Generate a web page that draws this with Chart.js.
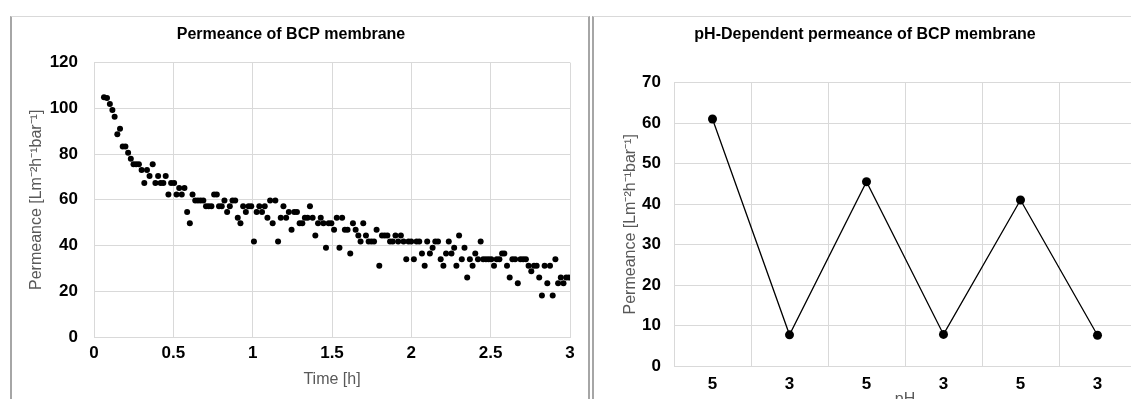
<!DOCTYPE html>
<html>
<head>
<meta charset="utf-8">
<script src="https://cdn.jsdelivr.net/npm/chart.js@4/dist/chart.umd.min.js"></script>
<style>
  html, body { margin: 0; padding: 0; background: #fff; overflow: hidden; width: 1131px; height: 399px; }
  .panel { position: absolute; box-sizing: border-box; }
  #p1 { left: 10px; top: 16px; width: 580px; height: 420px; border-left: 2px solid #a6a6a6; border-right: 2px solid #a6a6a6; border-top: 1px solid #d9d9d9; }
  #p2 { left: 592px; top: 16px; width: 600px; height: 420px; border-left: 2px solid #a6a6a6; border-top: 1px solid #d9d9d9; }
  canvas { position: absolute; }
  #timeChart { left: 12px; top: 17px; }
  #phChart { left: 594px; top: 17px; }
</style>
</head>
<body>
<div class="panel" id="p1"></div>
<div class="panel" id="p2"></div>
<canvas id="timeChart" width="576" height="382"></canvas>
<canvas id="phChart" width="560" height="394"></canvas>
<script>
// left chart: permeance over time
const timeH = [
  0.063, 0.082, 0.100, 0.116, 0.130, 0.147, 0.164, 0.181, 0.198, 0.215,
  0.232, 0.249, 0.266, 0.283, 0.300, 0.317, 0.334, 0.350, 0.370, 0.387,
  0.404, 0.420, 0.437, 0.452, 0.469, 0.486, 0.505, 0.520, 0.537, 0.553,
  0.570, 0.587, 0.604, 0.621, 0.638, 0.655, 0.672, 0.689, 0.706, 0.723,
  0.740, 0.757, 0.774, 0.788, 0.805, 0.822, 0.839, 0.856, 0.873, 0.890,
  0.906, 0.923, 0.940, 0.957, 0.974, 0.991, 1.008, 1.025, 1.042, 1.059,
  1.076, 1.093, 1.110, 1.126, 1.143, 1.160, 1.177, 1.194, 1.211, 1.228,
  1.245, 1.262, 1.279, 1.296, 1.313, 1.329, 1.346, 1.361, 1.378, 1.395,
  1.412, 1.429, 1.446, 1.462, 1.479, 1.496, 1.513, 1.530, 1.547, 1.564,
  1.581, 1.598, 1.615, 1.632, 1.649, 1.666, 1.680, 1.697, 1.714, 1.731,
  1.748, 1.765, 1.781, 1.798, 1.815, 1.832, 1.849, 1.866, 1.883, 1.900,
  1.917, 1.934, 1.951, 1.968, 1.982, 1.999, 2.016, 2.033, 2.050, 2.067,
  2.084, 2.100, 2.117, 2.134, 2.151, 2.168, 2.185, 2.202, 2.219, 2.236,
  2.253, 2.270, 2.284, 2.301, 2.318, 2.335, 2.352, 2.369, 2.386, 2.403,
  2.420, 2.437, 2.453, 2.470, 2.487, 2.504, 2.521, 2.538, 2.555, 2.572,
  2.586, 2.603, 2.620, 2.637, 2.654, 2.671, 2.688, 2.705, 2.722, 2.739,
  2.756, 2.773, 2.790, 2.806, 2.823, 2.840, 2.857, 2.874, 2.891, 2.908,
  2.925, 2.942, 2.959, 2.976, 2.993
];
const permeance = [
  104.8, 104.5, 101.9, 99.3, 96.3, 88.7, 91.1, 83.3, 83.3, 80.6,
  77.9, 75.5, 75.5, 75.5, 73.0, 67.4, 73.0, 70.4, 75.5, 67.4,
  70.4, 67.4, 67.4, 70.4, 62.3, 67.4, 67.4, 62.3, 65.2, 62.3,
  65.2, 54.7, 49.7, 62.3, 59.7, 59.7, 59.7, 59.7, 57.2, 57.2,
  57.2, 62.3, 62.3, 57.2, 57.2, 59.7, 54.7, 57.2, 59.7, 59.7,
  52.2, 49.7, 57.2, 54.7, 57.2, 57.2, 41.8, 54.7, 57.2, 54.7,
  57.2, 52.2, 59.7, 49.7, 59.7, 41.8, 52.2, 57.2, 52.2, 54.7,
  46.9, 54.7, 54.7, 49.7, 49.7, 52.2, 52.2, 57.2, 52.2, 44.4,
  49.7, 52.2, 49.7, 39.0, 49.7, 49.7, 46.9, 52.2, 39.0, 52.2,
  46.9, 46.9, 36.5, 49.7, 46.9, 44.4, 41.8, 49.7, 44.4, 41.8,
  41.8, 41.8, 46.9, 31.2, 44.4, 44.4, 44.4, 41.8, 41.8, 44.4,
  41.8, 44.4, 41.8, 34.0, 41.8, 41.8, 34.0, 41.8, 41.8, 36.5,
  31.2, 41.8, 36.5, 39.0, 41.8, 41.8, 34.0, 31.2, 36.5, 41.8,
  36.5, 39.0, 31.2, 44.4, 34.0, 39.0, 26.0, 34.0, 31.2, 36.5,
  34.0, 41.8, 34.0, 34.0, 34.0, 34.0, 31.2, 34.0, 34.0, 36.5,
  36.5, 31.2, 26.0, 34.0, 34.0, 23.5, 34.0, 34.0, 34.0, 31.2,
  28.7, 31.2, 31.2, 26.0, 18.2, 31.2, 23.5, 31.2, 18.2, 34.0,
  23.5, 26.0, 23.5, 26.0, 26.0
];

// right chart: permeance per pH step
const phLabels = ["5", "3", "5", "3", "5", "3"];
const phPermeance = [61.0, 7.7, 45.5, 7.8, 41.0, 7.6];

const FONT = "'Liberation Sans', Arial, sans-serif";
const GRID = "#d9d9d9";
const yTitle = "Permeance [Lm\u207B\u00B2h\u207B\u00B9bar\u207B\u00B9]";

function titleOpts(text, padBottom) {
  return {
    display: true,
    text: text,
    color: "#000",
    font: { family: FONT, size: 16, weight: "bold" },
    padding: { top: 0, bottom: padBottom },
  };
}

const tickFont = { family: FONT, size: 17, weight: "bold" };
const axisTitleFont = { family: FONT, size: 16 };

new Chart(document.getElementById("timeChart"), {
  type: "scatter",
  data: {
    datasets: [
      {
        data: timeH.map((t, i) => ({ x: t, y: permeance[i] })),
        backgroundColor: "#000",
        borderWidth: 0,
        pointRadius: 3,
      },
    ],
  },
  options: {
    responsive: false,
    animation: false,
    devicePixelRatio: 1,
    layout: { padding: { top: 8, left: 0, right: 18, bottom: 0 } },
    plugins: {
      legend: { display: false },
      tooltip: { enabled: false },
      title: titleOpts("Permeance of BCP membrane", 18.4),
    },
    scales: {
      x: {
        type: "linear",
        min: 0,
        max: 3,
        ticks: {
          stepSize: 0.5,
          color: "#000",
          font: tickFont,
          padding: 6,
          callback: (v) => String(Number(v)),
        },
        grid: { color: GRID, drawTicks: false },
        border: { color: GRID },
        title: { display: true, text: "Time [h]", color: "#595959", font: axisTitleFont, padding: { top: 0, bottom: 10 } },
        afterFit: (s) => { s.height = 62; },
      },
      y: {
        min: 0,
        max: 120,
        ticks: { stepSize: 20, color: "#000", font: tickFont, padding: 16 },
        grid: { color: GRID, drawTicks: false },
        border: { color: GRID },
        title: { display: true, text: yTitle, color: "#595959", font: axisTitleFont, padding: { top: 15, bottom: 0 } },
        afterFit: (s) => { s.width = 82; },
      },
    },
  },
});

new Chart(document.getElementById("phChart"), {
  type: "line",
  data: {
    labels: phLabels,
    datasets: [
      {
        data: phPermeance,
        borderColor: "#000",
        borderWidth: 1.3,
        backgroundColor: "#000",
        pointRadius: 4.5,
        pointBorderWidth: 0,
        tension: 0,
      },
    ],
  },
  options: {
    responsive: false,
    animation: false,
    devicePixelRatio: 1,
    layout: { padding: { top: 8, left: 0, right: 18, bottom: 0 } },
    plugins: {
      legend: { display: false },
      tooltip: { enabled: false },
      title: titleOpts("pH-Dependent permeance of BCP membrane", 38.4),
    },
    scales: {
      x: {
        offset: true,
        ticks: { color: "#000", font: tickFont, padding: 8 },
        grid: { color: GRID, drawTicks: false, offset: true },
        border: { color: GRID },
        title: { display: true, text: "pH", color: "#595959", font: axisTitleFont, padding: { top: 0, bottom: 2 } },
        afterFit: (s) => { s.height = 45; },
      },
      y: {
        min: 0,
        max: 70,
        ticks: { stepSize: 10, color: "#000", font: tickFont, padding: 13 },
        grid: { color: GRID, drawTicks: false },
        border: { color: GRID },
        title: { display: true, text: yTitle, color: "#595959", font: axisTitleFont, padding: { top: 27, bottom: 0 } },
        afterFit: (s) => { s.width = 80; },
      },
    },
  },
});
</script>
</body>
</html>
